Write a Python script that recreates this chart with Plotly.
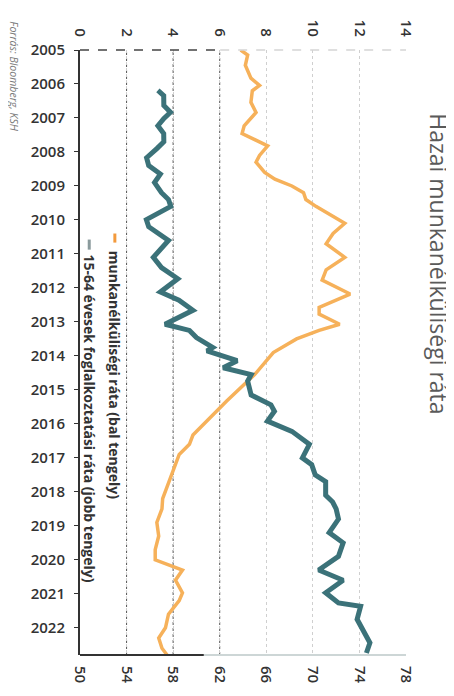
import plotly.graph_objects as go

# ---- data ----
unemp_year = [2005.0, 2005.15, 2005.45, 2005.83, 2006.04, 2006.2, 2006.54, 2006.84, 2007.23, 2007.46,
              2007.82, 2008.1, 2008.3, 2008.6, 2008.8, 2009.0, 2009.2, 2009.4, 2009.6, 2009.9,
              2010.1, 2010.4, 2010.7, 2011.1, 2011.47, 2011.77, 2012.18, 2012.57, 2012.77, 2013.07,
              2013.25, 2013.5, 2013.9, 2014.55, 2015.33, 2016.33, 2016.6, 2016.9, 2017.7, 2018.2,
              2018.5, 2018.9, 2019.3, 2019.7, 2020.0, 2020.3, 2020.6, 2020.97, 2021.2, 2021.6,
              2022.0, 2022.3, 2022.6, 2022.8]
unemp_rate = [6.9, 7.2, 7.1, 7.34, 7.71, 7.4, 7.34, 7.56, 7.05, 6.96,
              8.06, 7.71, 7.56, 7.93, 8.37, 9.1, 9.6, 9.7, 10.13, 10.87,
              11.37, 10.87, 10.57, 11.37, 10.57, 10.4, 11.6, 10.27, 10.27, 11.15,
              10.27, 9.3, 8.3, 7.5, 6.3, 4.85, 4.7, 4.26, 3.82, 3.55,
              3.52, 3.3, 3.38, 3.23, 3.23, 4.4, 4.1, 4.4, 4.26, 3.8,
              3.67, 3.38, 3.52, 3.74]

emp_year = [2006.19, 2006.34, 2006.63, 2006.83, 2007.02, 2007.23, 2007.46, 2007.7, 2007.9, 2008.17,
            2008.4, 2008.65, 2008.9, 2009.2, 2009.4, 2009.6, 2009.99, 2010.2, 2010.6, 2011.1,
            2011.4, 2011.73, 2012.12, 2012.36, 2012.66, 2013.07, 2013.25, 2013.46, 2013.75, 2013.85,
            2014.14, 2014.35, 2014.55, 2014.74, 2015.15, 2015.44, 2015.63, 2015.92, 2016.22, 2016.6,
            2017.0, 2017.2, 2017.5, 2017.7, 2018.1, 2018.3, 2018.5, 2018.8, 2019.2, 2019.5,
            2019.9, 2020.3, 2020.6, 2020.97, 2021.27, 2021.37, 2021.75, 2022.15, 2022.44, 2022.74]
emp_rate = [56.69, 57.19, 57.2, 57.77, 57.19, 56.69, 57.19, 57.2, 56.6, 55.72,
            55.9, 56.9, 56.4, 57.0, 57.6, 57.8, 55.7, 55.9, 57.6, 56.3,
            57.0, 58.4, 56.9, 58.5, 59.7, 57.3, 59.4, 60.0, 61.4, 60.9,
            63.5, 62.3, 64.7, 64.4, 64.7, 66.4, 66.7, 66.1, 68.2, 69.7,
            69.1, 69.9, 70.2, 71.1, 71.1, 71.7, 72.0, 72.2, 71.4, 72.6,
            72.2, 70.5, 72.6, 71.1, 72.2, 74.1, 73.8, 74.4, 74.9, 74.6]

year_ticks = list(range(2005, 2023))
left_ticks = [0, 2, 4, 6, 8, 10, 12, 14]
right_ticks = [50, 54, 58, 62, 66, 70, 74, 78]

title_text = "Hazai munkanélküliségi ráta"
legend_1 = "munkanélküliségi ráta (bal tengely)"
legend_2 = "15-64 évesek foglalkoztatási ráta (jobb tengely)"
source_text = "Forrás: Bloomberg, KSH"

ORANGE = "#f6b15a"
TEAL = "#3b7279"
DARK = "#333333"
FONT = "Open Sans"

fig = go.Figure()
fig.add_trace(go.Scatter(x=unemp_rate, y=unemp_year, mode="lines", xaxis="x", yaxis="y",
                         line=dict(color=ORANGE, width=3.5), name=legend_1))
fig.add_trace(go.Scatter(x=emp_rate, y=emp_year, mode="lines", xaxis="x2", yaxis="y",
                         line=dict(color=TEAL, width=5), name=legend_2))

tickfont = dict(family=FONT, size=15, color=DARK, weight=600)

# page body has an 8px default margin, so the figure is 8px smaller
fig.update_layout(
    width=446, height=688,
    margin=dict(l=72, r=48, t=42, b=38),
    plot_bgcolor="white", paper_bgcolor="white",
    showlegend=False,
    xaxis=dict(range=[0, 14], side="top", tickvals=left_ticks, tickangle=90,
               showgrid=True, gridcolor="#cfcfcf", griddash="dot", gridwidth=1,
               zeroline=False, showline=False, ticks="", tickfont=tickfont,
               ticklabelstandoff=10),
    xaxis2=dict(range=[50, 78], side="bottom", overlaying="x", tickvals=right_ticks,
                tickangle=90, showgrid=False, zeroline=False, showline=False, ticks="",
                tickfont=tickfont, ticklabelstandoff=10),
    yaxis=dict(range=[2022.8, 2005.0], tickvals=year_ticks, showgrid=False, zeroline=False,
               showline=True, linecolor=DARK, linewidth=2, ticks="outside", ticklen=4,
               tickcolor=DARK, tickfont=tickfont, ticklabelstandoff=6),
)

# darker dotted grid for the lower left-axis ticks
for v in left_ticks:
    if 0 < v <= 6:
        fig.add_shape(type="line", xref="x", yref="paper", x0=v, x1=v, y0=0, y1=1,
                      line=dict(color="#555555", width=1, dash="dot"), layer="below")

# frame lines (top dashed, bottom solid)
fig.add_shape(type="line", xref="paper", yref="paper", x0=0, x1=0.43, y0=1, y1=1,
              line=dict(color="#444444", width=1.5, dash="dash"))
fig.add_shape(type="line", xref="paper", yref="paper", x0=0.43, x1=1, y0=1, y1=1,
              line=dict(color="#d5d5d5", width=1.5, dash="dash"))
fig.add_shape(type="line", xref="paper", yref="paper", x0=0, x1=0.38, y0=0, y1=0,
              line=dict(color=DARK, width=2))
fig.add_shape(type="line", xref="paper", yref="paper", x0=0.38, x1=1, y0=0, y1=0,
              line=dict(color="#cdd6d6", width=2))


def px(xp):
    return (xp - 80) / 318.0


def py(yp):
    return 1 - (yp - 50) / 600.0


# legend (rotated)
fig.add_shape(type="line", xref="paper", yref="paper", x0=px(114), x1=px(114), y0=py(232), y1=py(241),
              line=dict(color="#f39a3c", width=3))
fig.add_shape(type="line", xref="paper", yref="paper", x0=px(89), x1=px(89), y0=py(238), y1=py(248),
              line=dict(color="#8a9a9c", width=3))
fig.add_annotation(text=legend_1, xref="paper", yref="paper", x=px(114), y=py(247),
                   xanchor="center", yanchor="top", textangle=90, showarrow=False,
                   font=dict(family=FONT, size=14, color=DARK, weight=700))
fig.add_annotation(text=legend_2, xref="paper", yref="paper", x=px(89), y=py(251),
                   xanchor="center", yanchor="top", textangle=90, showarrow=False,
                   font=dict(family=FONT, size=14, color=DARK, weight=700))

# title (rotated)
fig.add_annotation(text=title_text, xref="paper", yref="paper", x=px(430), y=py(111),
                   xanchor="center", yanchor="top", textangle=90, showarrow=False,
                   font=dict(family=FONT, size=23, color="#5a5a5a"))

# source (rotated)
fig.add_annotation(text="<i>" + source_text + "</i>", xref="paper", yref="paper", x=px(16), y=py(20),
                   xanchor="center", yanchor="top", textangle=90, showarrow=False,
                   font=dict(family=FONT, size=10.5, color="#7a7a7a"))

fig.write_html("out.html")
